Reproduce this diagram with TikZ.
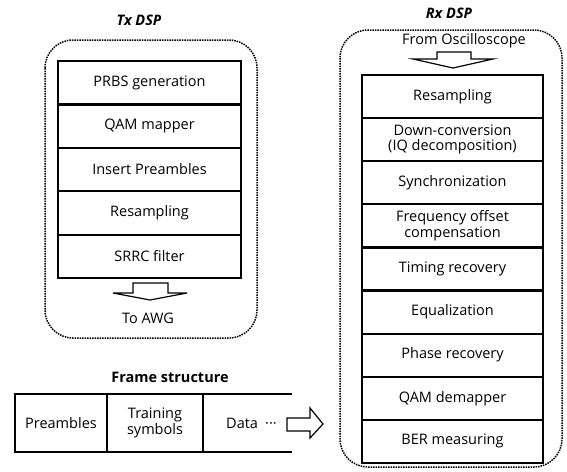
\documentclass[tikz,border=0pt]{standalone}
\usepackage{fontspec}
\setmainfont{Open Sans}
\usetikzlibrary{positioning}

\newcommand\dspfont{\fontsize{14.5}{15.5}\selectfont}

\tikzset{
  dsp/.style={rounded corners=28pt, densely dotted, line width=1.5pt},
  stage/.style={draw, line width=2.2pt, outer sep=0pt, inner sep=1pt, align=center},
  txstage/.style={stage, minimum width=183pt, minimum height=43.4pt},
  rxstage/.style={stage, minimum width=181pt, minimum height=43.1pt},
  cell/.style={outer sep=0pt, inner sep=1pt, align=center, minimum height=58pt},
  title/.style={font=\dspfont\bfseries\itshape},
  hollow/.style={draw, line width=1.2pt, line join=miter}
}

\begin{document}
\begin{tikzpicture}[x=1pt, y=-1pt, every node/.style={font=\dspfont}]
\useasboundingbox (0,0) rectangle (567,471);

% Tx DSP
\node[title] (txtitle) at (139,20) {Tx DSP};
\draw[dsp] (45,40) rectangle (257,338);
\node[txstage, anchor=north] (prbs) at (149.5,61) {PRBS generation};
\node[txstage, below=0pt of prbs] (mapper) {QAM mapper};
\node[txstage, below=0pt of mapper] (preamb) {Insert Preambles};
\node[txstage, below=0pt of preamb] (txresamp) {Resampling};
\node[txstage, below=0pt of txresamp] (srrc) {SRRC filter};
\draw[hollow] (133,283) -- (168,283) -- (168,293) -- (187,293) -- (150,300)
   -- (113,293) -- (133,293) -- cycle;
\node (awg) at (148,318) {To AWG};

% Rx DSP
\node[title] (rxtitle) at (449,13) {Rx DSP};
\draw[dsp] (340,30) rectangle (562,467);
\node (osc) at (464,41) {From Oscilloscope};
\draw[hollow] (437,52) -- (471,52) -- (471,59) -- (493,59) -- (453,68)
   -- (413,59) -- (437,59) -- cycle;
\node[rxstage, anchor=north] (rxresamp) at (452.5,75) {Resampling};
\node[rxstage, below=0pt of rxresamp] (downconv) {Down-conversion\\(IQ decomposition)};
\node[rxstage, below=0pt of downconv] (sync) {Synchronization};
\node[rxstage, below=0pt of sync] (freq) {Frequency offset\\compensation};
\node[rxstage, below=0pt of freq] (timing) {Timing recovery};
\node[rxstage, below=0pt of timing] (equal) {Equalization};
\node[rxstage, below=0pt of equal] (phase) {Phase recovery};
\node[rxstage, below=0pt of phase] (demapper) {QAM demapper};
\node[rxstage, below=0pt of demapper] (ber) {BER measuring};

% frame structure
\node[font=\dspfont\bfseries] (frametitle) at (170,377) {Frame structure};
\node[cell, minimum width=92pt, anchor=west] (pre) at (15,423) {Preambles};
\node[cell, minimum width=96pt, right=0pt of pre] (train) {Training\\symbols};
\node[cell, minimum width=89pt, right=0pt of train] (data) {\hspace{8pt}Data\enspace···};
\begin{scope}[line width=1.1pt]
\draw (data.north east) -- (pre.north west) -- (pre.south west) -- (data.south east);
\draw (pre.north east) -- (pre.south east);
\draw (train.north east) -- (train.south east);
\end{scope}
\draw[hollow] (287,418) -- (310,418) -- (310,408) -- (323,424) -- (310,438)
   -- (310,431) -- (287,431) -- cycle;
\end{tikzpicture}
\end{document}
